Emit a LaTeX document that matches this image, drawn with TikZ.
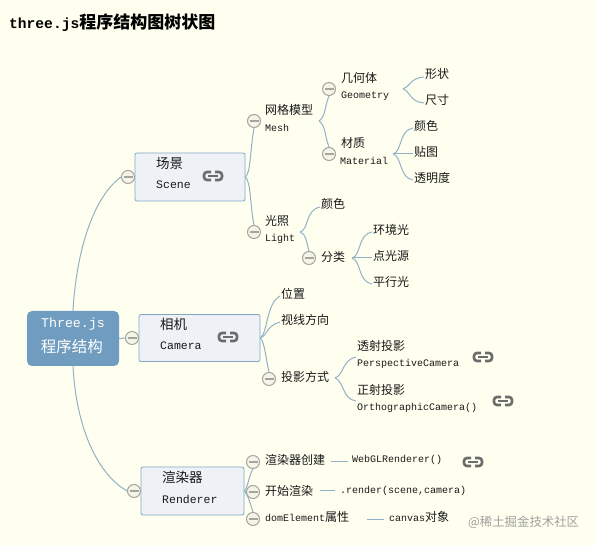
\documentclass[tikz,border=0pt]{standalone}
\usepackage{xcolor}
\usepackage{fontspec}
\setmainfont{Noto Sans CJK SC}
\setmonofont{Liberation Mono}
\usepackage{tikz}
\usetikzlibrary{arrows.meta, positioning, calc}

\definecolor{paper}{RGB}{255,255,240}
\definecolor{rootblue}{RGB}{112,157,191}
\definecolor{boxfill}{RGB}{238,242,247}
\definecolor{boxline}{RGB}{128,166,192}
\definecolor{branchc}{RGB}{146,177,198}
\definecolor{minusc}{RGB}{165,165,160}
\definecolor{linkc}{RGB}{108,108,108}

\tikzset{
  branch/.style={branchc, line width=1pt},
  topic/.style={draw=boxline, fill=boxfill, line width=0.8pt, rounded corners=2pt, inner sep=0pt},
  fold/.style={circle, draw=minusc, fill=paper!92!gray, line width=1pt, minimum size=13pt, inner sep=0pt,
    path picture={\draw[minusc, line width=1.4pt] ([xshift=-4.5pt]path picture bounding box.center) -- ([xshift=4.5pt]path picture bounding box.center);}},
  zh/.style={anchor=west, inner sep=0pt, inner xsep=1pt, text=black!90, font=\fontsize{12}{12}\selectfont},
  zhbig/.style={zh, font=\fontsize{13.5}{14}\selectfont},
  en/.style={anchor=west, inner sep=0pt, inner xsep=1pt, text=black!90, font=\ttfamily\fontsize{10}{12}\selectfont},
  enbig/.style={en, font=\ttfamily\fontsize{11.5}{12}\selectfont},
  linkicon/.pic={
    \draw[linkc, line width=2.6pt, rounded corners=3pt] (-2,-4) -- (-9,-4) -- (-9,4) -- (-2,4);
    \draw[linkc, line width=2.6pt, rounded corners=3pt] (2,-4) -- (9,-4) -- (9,4) -- (2,4);
    \draw[linkc, line width=2.2pt] (-5,0) -- (5,0);
  },
}

\begin{document}
\begin{tikzpicture}[x=1pt, y=-1pt]
\useasboundingbox[fill=paper] (0,0) rectangle (595,545);

% Title
\node[anchor=west, inner sep=0pt, text=black, font=\bfseries\fontsize{17}{18}\selectfont] (title) at (9,23) {{\ttfamily\fontsize{14.6}{18}\selectfont three.js}程序结构图树状图};

% Root
\node[fill=rootblue, rounded corners=5pt, minimum width=92pt, minimum height=55pt, inner sep=0pt] (root) at (73,338.5) {};
\node[text=white, inner sep=0pt, font=\ttfamily\fontsize{13.3}{14}\selectfont] (rootEn) at (73,324) {Three.js};
\node[text=white, inner sep=0pt, font=\fontsize{15.5}{16}\selectfont] (rootZh) at (72,347) {程序结构};

% ---- SCENE ----
\node[topic, minimum width=110pt, minimum height=48pt] (scene) at (190,177) {};
\node[zhbig] (sceneZh) at (155,163) {场景};
\node[enbig] (sceneEn) at (155,185) {Scene};
\pic at (213,176) {linkicon};
\node[fold] (sceneFold) at (128,177) {};

% ---- CAMERA ----
\node[topic, minimum width=121pt, minimum height=47pt] (camera) at (199.5,338) {};
\node[zhbig] (cameraZh) at (159,324) {相机};
\node[enbig] (cameraEn) at (159,346) {Camera};
\pic at (228,337) {linkicon};
\node[fold] (cameraFold) at (132,338) {};

% ---- RENDERER ----
\node[topic, minimum width=103pt, minimum height=48pt] (renderer) at (192.5,491) {};
\node[zhbig] (rendererZh) at (161,477) {渲染器};
\node[enbig] (rendererEn) at (161,499) {Renderer};
\node[fold] (rendererFold) at (134,491) {};

% Root branches
\draw[branch] (root.north) .. controls (76,255) and (92,198) .. (sceneFold.west);
\draw[branch] (root.east) -- (cameraFold.west);
\draw[branch] (root.south) .. controls (76,425) and (96,473) .. (rendererFold.west);

% ---- MESH ----
\node[fold] (meshFold) at (254,121) {};
\node[zh] (meshZh) at (264,110) {网格模型};
\node[en] (meshEn) at (264,128) {Mesh};
\coordinate (meshJoin) at (319,121);
\node[fold] (geomFold) at (329,89) {};
\node[zh] (geomZh) at (340,78) {几何体};
\node[en] (geomEn) at (340,96) {Geometry};
\node[fold] (matFold) at (329,154) {};
\node[zh] (matZh) at (340,143) {材质};
\node[en] (matEn) at (339,161) {Material};
\draw[branch] (scene.east) .. controls (251,172) and (250,150) .. (meshFold.south);
\draw[branch] (meshJoin) .. controls (326,116) and (324,108) .. (geomFold.south);
\draw[branch] (meshJoin) .. controls (326,126) and (324,134) .. (matFold.north);

% Geometry leaves
\coordinate (geomJoin) at (403,89);
\node[zh] (shapeZh) at (424,74) {形状};
\node[zh] (sizeZh) at (424,100) {尺寸};
\draw[branch] (geomJoin) .. controls (410,87) and (410,78) .. ([yshift=-3pt]shapeZh.west);
\draw[branch] (geomJoin) .. controls (410,91) and (410,102) .. ([yshift=-3pt]sizeZh.west);

% Material leaves
\coordinate (matJoin) at (393,154);
\node[zh] (colorZh) at (413,126) {颜色};
\node[zh] (mapZh) at (413,152) {贴图};
\node[zh] (alphaZh) at (413,178) {透明度};
\draw[branch] (matJoin) .. controls (402,152) and (399,130) .. ([yshift=-2pt]colorZh.west);
\draw[branch] (matJoin) -- ([yshift=-2pt]mapZh.west);
\draw[branch] (matJoin) .. controls (402,156) and (399,178) .. ([yshift=-2pt]alphaZh.west);

% ---- LIGHT ----
\node[fold] (lightFold) at (254,232) {};
\node[zh] (lightZh) at (264,221) {光照};
\node[en] (lightEn) at (264,239) {Light};
\coordinate (lightJoin) at (300,232);
\node[zh] (lcolorZh) at (320,204) {颜色};
\node[fold] (kindFold) at (309,258) {};
\node[zh] (kindZh) at (320,257) {分类};
\draw[branch] (scene.east) .. controls (251,182) and (250,205) .. (lightFold.north);
\draw[branch] (lightJoin) .. controls (309,230) and (305,210) .. ([yshift=-3pt]lcolorZh.west);
\draw[branch] (lightJoin) .. controls (306,234) and (306,240) .. (kindFold.north);

% Light kinds
\coordinate (kindJoin) at (352,258);
\node[zh] (ambientZh) at (372,230) {环境光};
\node[zh] (pointZh) at (372,256) {点光源};
\node[zh] (parallelZh) at (372,282) {平行光};
\draw[branch] (kindJoin) .. controls (361,256) and (358,234) .. ([yshift=-2pt]ambientZh.west);
\draw[branch] (kindJoin) -- ([yshift=-2pt]pointZh.west);
\draw[branch] (kindJoin) .. controls (361,260) and (358,282) .. ([yshift=-2pt]parallelZh.west);

% ---- CAMERA LEAVES ----
\node[zh] (posZh) at (280,294) {位置};
\node[zh] (dirZh) at (280,320) {视线方向};
\node[fold] (projFold) at (269,379) {};
\node[zh] (projZh) at (280,377) {投影方式};
\draw[branch] (camera.east) .. controls (268,332) and (266,304) .. ([yshift=-2pt]posZh.west);
\draw[branch] (camera.east) .. controls (268,335) and (266,326) .. ([yshift=-2pt]dirZh.west);
\draw[branch] (camera.east) .. controls (265,343) and (266,360) .. (projFold.north);

% Projection leaves
\coordinate (projJoin) at (335,378);
\node[zh] (perspZh) at (356,346) {透射投影};
\node[en] (perspEn) at (356,364) {PerspectiveCamera};
\node[zh] (orthoZh) at (356,390) {正射投影};
\node[en] (orthoEn) at (356,408) {OrthographicCamera()};
\draw[branch] (projJoin) .. controls (344,375) and (342,360) .. ([yshift=-11pt]perspZh.west);
\draw[branch] (projJoin) .. controls (344,381) and (342,399) .. ([yshift=-11pt]orthoZh.west);
\pic at (483,357) {linkicon};
\pic at (503,401) {linkicon};

% ---- RENDERER LEAVES ----
\node[fold] (createFold) at (253,462) {};
\node[zh] (createZh) at (264,460) {渲染器创建};
\node[fold] (startFold) at (253,492) {};
\node[zh] (startZh) at (264,491) {开始渲染};
\node[fold] (domFold) at (253,519) {};
\node[zh] (domZh) at (264,517) {{\ttfamily\fontsize{10}{12}\selectfont domElement}属性};
\draw[branch] (renderer.east) .. controls (248,487) and (249,475) .. (createFold.south);
\draw[branch] (renderer.east) -- (startFold.west);
\draw[branch] (renderer.east) .. controls (248,495) and (250,503) .. (domFold.north);

% Renderer calls
\node[en] (webglEn) at (351,460) {WebGLRenderer()};
\node[en] (renderEn) at (339,491) {.render(scene,camera)};
\node[zh] (canvasEn) at (388,517) {{\ttfamily\fontsize{10}{12}\selectfont canvas}对象};
\coordinate (createEnd) at (331,462);
\coordinate (startEnd) at (320,491);
\coordinate (domEnd) at (367,519);
\draw[branch] (createEnd) -- ([xshift=-3pt]webglEn.west |- createEnd);
\draw[branch] (startEnd) -- ([xshift=-4pt]renderEn.west |- startEnd);
\draw[branch] (domEnd) -- ([xshift=-4pt]canvasEn.west |- domEnd);
\pic at (473,462) {linkicon};

% Watermark
\node[anchor=west, inner sep=0pt, text=gray!75, font=\fontsize{12.4}{14}\selectfont] (mark) at (468,522) {@稀土掘金技术社区};

\end{tikzpicture}
\end{document}
